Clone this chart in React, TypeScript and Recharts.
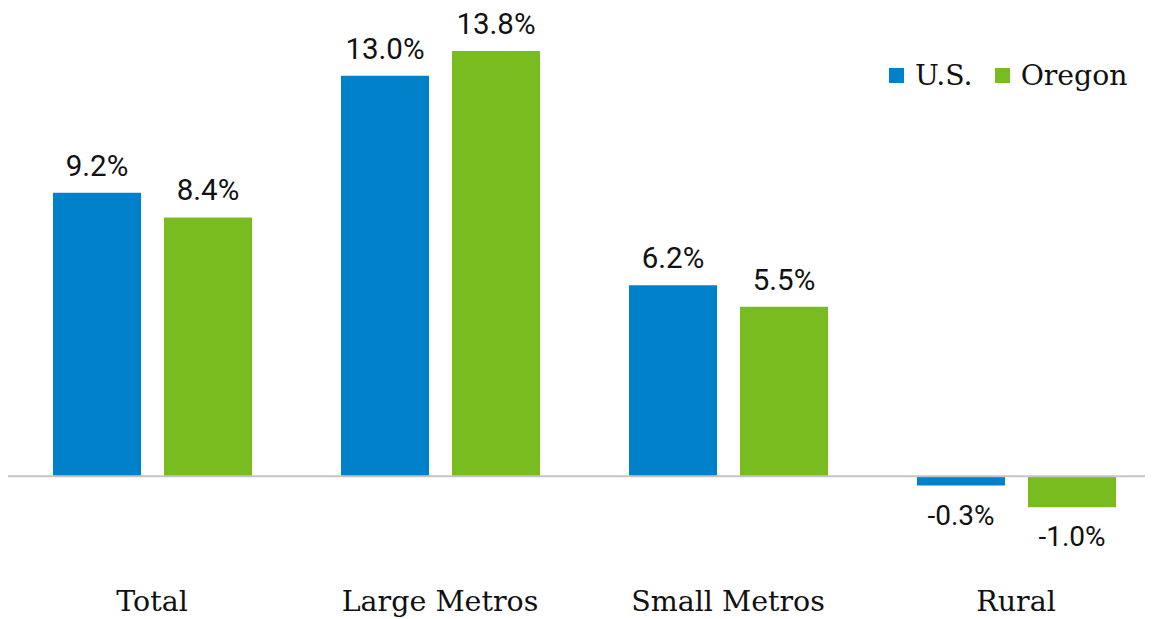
import { BarChart, Bar, XAxis, YAxis, ReferenceLine, LabelList } from 'recharts';

const categories = ['Total', 'Large Metros', 'Small Metros', 'Rural'];
const usValues = [9.2, 13.0, 6.2, -0.3];
const oregonValues = [8.4, 13.8, 5.5, -1.0];

const BLUE = '#0081C9';
const GREEN = '#78BC20';

const data = categories.map((name, i) => ({ name, us: usValues[i], oregon: oregonValues[i] }));

const renderValue = (props: any) => {
    const { x, y, width, height, value } = props;
    const top = Math.min(y, y + height);
    const bottom = Math.max(y, y + height);
    const neg = value < 0;
    return (
        <text
            x={x + width / 2}
            y={neg ? bottom + 39 : top - 17}
            textAnchor="middle"
            fill="#111"
            fontSize={neg ? 28 : 29.5}
            fontFamily="Roboto, sans-serif"
        >
            {value.toFixed(1)}%
        </text>
    );
};

export default function App() {
    return (
        <div style={{ width: 1140, height: 611, overflow: 'hidden', position: 'relative', background: '#fff' }}>
            <BarChart
                width={1152}
                height={611}
                data={data}
                margin={{ top: 6, right: 0, bottom: 0, left: 0 }}
                barSize={88}
                barGap={23}
            >
                <XAxis
                    dataKey="name"
                    axisLine={false}
                    tickLine={false}
                    height={81}
                    tickMargin={47}
                    tick={{ fill: '#111', fontSize: 28.5, fontFamily: '"DejaVu Serif", serif' }}
                    interval={0}
                />
                <YAxis hide domain={[-2, 15]} />
                <ReferenceLine y={0} stroke="#c4c4c4" strokeWidth={2} />
                <Bar dataKey="us" fill={BLUE} isAnimationActive={false}>
                    <LabelList dataKey="us" content={renderValue} />
                </Bar>
                <Bar dataKey="oregon" fill={GREEN} isAnimationActive={false}>
                    <LabelList dataKey="oregon" content={renderValue} />
                </Bar>
            </BarChart>
            {/* legend, top right */}
            <div style={{ position: 'absolute', left: 881, top: 51, display: 'flex', alignItems: 'center', fontFamily: '"DejaVu Serif", serif', fontSize: 28.3, color: '#111', whiteSpace: 'nowrap' }}>
                <span style={{ width: 15, height: 15, background: BLUE, display: 'inline-block', marginRight: 11 }} />
                <span style={{ marginRight: 22 }}>U.S.</span>
                <span style={{ width: 15, height: 15, background: GREEN, display: 'inline-block', marginRight: 11 }} />
                <span>Oregon</span>
            </div>
        </div>
    );
}
